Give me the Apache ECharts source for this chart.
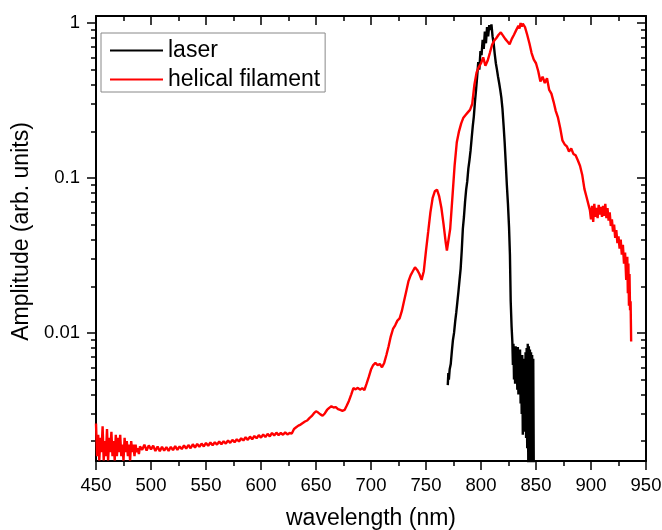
<!DOCTYPE html>
<html>
<head>
<meta charset="utf-8">
<script src="https://cdn.jsdelivr.net/npm/echarts@6/dist/echarts.min.js"></script>
<style>html,body{margin:0;padding:0;background:#fff}#c{width:662px;height:530px}</style>
</head>
<body>
<div id="c"></div>
<script>
// ---- data ----
const seriesNames = ['laser', 'helical filament'];
const xTickValues = [450, 500, 550, 600, 650, 700, 750, 800, 850, 900, 950];
const yMajorTicks = [0.01, 0.1, 1];
const yMinorTicks = [0.002,0.003,0.004,0.005,0.006,0.007,0.008,0.009,
                     0.02,0.03,0.04,0.05,0.06,0.07,0.08,0.09,
                     0.2,0.3,0.4,0.5,0.6,0.7,0.8,0.9];

const laserData = [
 [769.8,0.0046],[770.3,0.0055],[770.8,0.0050],[771.5,0.0058],[772.5,0.0063],[773.5,0.0076],
 [774.5,0.0090],[775.5,0.0100],[776.5,0.0118],[777.5,0.0135],[778.5,0.0158],[779.5,0.0185],
 [780.5,0.0220],[781.5,0.0260],[782.5,0.0340],[783.5,0.0470],[784.5,0.0560],[785.5,0.0700],
 [786.5,0.0840],[787.5,0.0950],[788.5,0.1150],[789.5,0.1300],[790.5,0.1500],[791.5,0.1800],
 [792.5,0.2150],[793.5,0.2500],[794.5,0.3100],[795.5,0.3700],[796.5,0.4500],[797.5,0.5600],
 [798.5,0.5000],[799.5,0.6600],[800.5,0.6200],[801.5,0.7800],[802.5,0.6800],[803.5,0.8800],
 [804.5,0.7400],[805.5,0.9400],[806.5,0.8200],[807.5,0.9700],[808.5,0.9000],[809.5,0.9800],
 [810.5,0.8200],[811.5,0.7400],[812.5,0.6300],[813.5,0.5500],[814.5,0.5000],[815.5,0.4500],
 [816.5,0.4100],[817.5,0.3700],[818.5,0.3300],[819.5,0.2800],[820.5,0.2200],[821.5,0.1700],
 [822.5,0.1250],[823.5,0.0900],[824.5,0.0680],[825.5,0.0480],[826.3,0.0320],[827.0,0.0160],
 [827.8,0.0110],[828.5,0.0088],[829.0,0.0062],[829.5,0.0085],[830.0,0.0050],[830.5,0.0080],
 [831.0,0.0047],[831.5,0.0082],[832.0,0.0055],[832.5,0.0079],[833.0,0.0043],[833.5,0.0081],
 [834.0,0.0040],[834.5,0.0075],[835.0,0.0045],[835.5,0.0078],[836.0,0.0035],[836.5,0.0070],
 [837.0,0.0030],[837.5,0.0072],[838.0,0.0022],[838.5,0.0068],[839.0,0.0023],[839.5,0.0065],
 [840.0,0.0025],[840.5,0.0075],[841.0,0.0021],[841.5,0.0080],[842.0,0.0018],[842.5,0.0085],
 [843.0,0.0014],[843.5,0.0082],[844.0,0.0012],[844.5,0.0078],[845.0,0.0013],[845.5,0.0075],
 [846.0,0.0014],[846.5,0.0072],[847.0,0.0012],[847.5,0.0068],[848.0,0.0012]
];

const helicalData = [
 [450,0.0026],[451,0.0016],[452,0.0022],[453,0.0015],[454,0.0021],[455,0.0017],[456,0.0025],
 [457,0.0015],[458,0.0020],[459,0.0016],[460,0.0024],[461,0.0015],[462,0.0021],[463,0.0017],
 [464,0.0023],[465,0.0016],[466,0.0020],[467,0.0015],[468,0.0022],[469,0.0016],[470,0.0021],
 [471,0.0017],[472,0.0022],[473,0.0016],[474,0.0019],[475,0.0015],[476,0.0021],[477,0.0017],
 [478,0.0020],[479,0.0016],[480,0.0019],[481,0.0015],[482,0.0020],[483,0.0017],[484,0.0019],
 [485,0.0016],[486,0.0019],[487,0.0017],[488,0.0018],[489,0.00165],[490,0.00185],
 [492,0.00176],[494,0.00190],[496,0.00174],[498,0.00188],[500,0.00177],[502,0.00187],
 [504,0.00173],[506,0.00185],[508,0.00172],[510,0.00184],[512,0.00174],[514,0.00183],
 [516,0.00173],[518,0.00184],[520,0.00175],[522,0.00186],[524,0.00176],[526,0.00185],
 [528,0.00178],[530,0.00188],[532,0.00179],[534,0.00189],[536,0.00180],[538,0.00191],
 [540,0.00182],[542,0.00192],[544,0.00184],[546,0.00193],[548,0.00185],[550,0.00195],
 [552,0.00187],[554,0.00196],[556,0.00188],[558,0.00197],[560,0.00190],[562,0.00199],
 [564,0.00191],[566,0.00200],[568,0.00193],[570,0.00202],[572,0.00195],[574,0.00204],
 [576,0.00197],[578,0.00206],[580,0.00199],[582,0.00209],[584,0.00202],[586,0.00212],
 [588,0.00204],[590,0.00214],[592,0.00206],[594,0.00216],[596,0.00209],[598,0.00219],
 [600,0.00211],[602,0.00221],[604,0.00213],[606,0.00223],[608,0.00215],[610,0.00226],
 [612,0.00218],[614,0.00227],[616,0.00219],[618,0.00226],[620,0.00220],[622,0.00228],
 [624,0.00221],[626,0.00226],[628,0.00224],[630,0.00240],[632,0.00246],[634,0.00252],
 [636,0.00256],[638,0.00262],[640,0.00268],[642,0.00272],[644,0.00282],[646,0.00290],
 [648,0.00302],[650,0.00312],[652,0.00306],[654,0.00298],[656,0.00292],[658,0.00302],
 [660,0.00318],[662,0.00328],[664,0.00336],[666,0.00330],[668,0.00332],[670,0.00322],
 [672,0.00318],[674,0.00314],[676,0.00318],[678,0.00340],[680,0.00365],[682,0.00400],
 [684,0.00440],[686,0.00432],[688,0.00442],[690,0.00430],[692,0.00440],[694,0.00428],
 [696,0.00470],[698,0.00520],[700,0.00580],[702,0.00620],[704,0.00640],[706,0.00620],
 [708,0.00630],[710,0.00600],[712,0.00640],[714,0.00720],[716,0.00820],[718,0.00950],
 [720,0.01060],[722,0.01120],[724,0.01200],[726,0.01240],[728,0.01380],[730,0.01600],
 [732,0.01850],[734,0.02150],[736,0.02350],[738,0.02500],[740,0.02650],[742,0.02550],
 [744,0.02400],[746,0.02200],[747,0.02150],[748,0.02500],[750,0.03400],[752,0.04500],
 [754,0.06000],[756,0.07400],[758,0.08200],[760,0.08400],[762,0.07600],[764,0.06400],
 [766,0.05000],[768,0.03800],[769,0.03400],[770,0.03500],[772,0.04700],[774,0.07500],
 [776,0.12000],[778,0.17000],[780,0.20000],[782,0.22500],[784,0.24500],[786,0.25500],
 [788,0.26500],[790,0.27500],[792,0.30000],[794,0.40000],[796,0.48000],[798,0.52000],
 [800,0.55000],[802,0.60000],[804,0.53000],[806,0.57000],[808,0.64000],[810,0.72000],
 [812,0.77000],[814,0.80000],[816,0.84000],[818,0.87000],[820,0.83000],[822,0.79000],
 [824,0.76000],[826,0.73000],[828,0.79000],[830,0.84000],[832,0.90000],[834,0.96000],
 [835,0.92000],[836,1.00000],[837,0.95000],[838,0.99000],[840,0.94000],[842,0.84000],
 [844,0.74000],[846,0.64000],[848,0.58000],[850,0.55000],[852,0.49000],[854,0.42000],
 [856,0.45000],[858,0.41000],[860,0.44000],[862,0.37000],[864,0.35000],[866,0.31000],
 [868,0.27000],[870,0.24500],[872,0.21000],[874,0.17500],[876,0.16500],[878,0.16000],
 [880,0.14800],[882,0.15500],[884,0.14300],[886,0.14000],[888,0.13000],[890,0.12000],
 [892,0.10500],[894,0.08500],[896,0.07500],[898,0.06600],[899,0.06200],[900,0.05400],
 [901,0.06600],[902,0.05200],[903,0.06800],[904,0.05600],[905,0.06400],[906,0.05500],
 [907,0.06700],[908,0.05800],[909,0.06500],[910,0.05600],[911,0.06600],[912,0.05700],
 [913,0.06800],[914,0.05500],[915,0.06400],[916,0.05300],[917,0.06000],[918,0.04900],
 [919,0.05400],[920,0.04500],[921,0.05000],[922,0.04100],[923,0.04600],[924,0.03800],
 [925,0.04200],[926,0.03500],[927,0.04000],[928,0.03200],[929,0.03700],[930,0.02800],
 [931,0.03300],[932,0.02200],[933,0.03100],[933.5,0.01800],[934,0.02800],[934.5,0.01500],
 [935,0.02400],[935.5,0.01400],[936,0.01600],[936.5,0.00880]
];

// ---- chart ----
const FONT = 'Liberation Sans, Arial, sans-serif';
const Y_MIN = 0.00149, Y_MAX = 1.11;
const fmt = v => String(+Number(v).toPrecision(3));

function yAxisCfg(pos, inside, ticks, len, showLine, showLabel, extra) {
  return Object.assign({
    type: 'log', logBase: 10, position: pos, min: Y_MIN, max: Y_MAX,
    axisLine: { show: showLine, lineStyle: { color: '#000', width: 2 } },
    axisTick: { show: true, inside: inside, length: len, customValues: ticks, lineStyle: { color: '#000', width: 1.5 } },
    axisLabel: { show: showLabel, customValues: yMajorTicks, formatter: fmt, margin: 16,
                 fontSize: 18.5, color: '#000', fontFamily: FONT },
    splitLine: { show: false }, minorTick: { show: false }
  }, extra || {});
}

const chart = echarts.init(document.getElementById('c'), null, { renderer: 'canvas' });
chart.setOption({
  animation: false,
  backgroundColor: '#fff',
  grid: { left: 96, right: 16, top: 16, bottom: 69, outerBoundsMode: 'none', containLabel: false },
  legend: {
    data: seriesNames, orient: 'vertical', left: 101, top: 33, icon: 'rect',
    padding: [6, 5, 1, 9], itemGap: 6, itemWidth: 53, itemHeight: 2,
    borderColor: '#888', borderWidth: 1, backgroundColor: '#fff',
    textStyle: { fontSize: 23, color: '#000', fontFamily: FONT }
  },
  xAxis: [
    { type: 'value', position: 'bottom', min: 450, max: 950, interval: 50,
      name: 'wavelength (nm)', nameLocation: 'middle', nameGap: 46,
      nameTextStyle: { fontSize: 23, color: '#000', fontFamily: FONT },
      axisLine: { show: true, lineStyle: { color: '#000', width: 2 } },
      axisTick: { show: true, inside: false, length: 9, lineStyle: { color: '#000', width: 1.5 } },
      minorTick: { show: true, splitNumber: 2, length: 5, lineStyle: { color: '#000', width: 1.5 } },
      axisLabel: { show: true, margin: 15, fontSize: 18.5, color: '#000', fontFamily: FONT,
                   customValues: xTickValues },
      splitLine: { show: false }, minorSplitLine: { show: false } },
    { type: 'value', position: 'top', min: 450, max: 950, interval: 50,
      axisLine: { show: true, lineStyle: { color: '#000', width: 2 } },
      axisTick: { show: true, inside: true, length: 9, lineStyle: { color: '#000', width: 1.5 } },
      minorTick: { show: true, splitNumber: 2, length: 5, lineStyle: { color: '#000', width: 1.5 } },
      axisLabel: { show: false }, splitLine: { show: false }, minorSplitLine: { show: false } }
  ],
  yAxis: [
    yAxisCfg('left', false, yMajorTicks, 9, true, true, {
      name: 'Amplitude (arb. units)', nameLocation: 'middle', nameGap: 53, nameRotate: 90,
      nameTextStyle: { fontSize: 23, color: '#000', fontFamily: FONT, padding: [0, 0, 0, 14] }
    }),
    yAxisCfg('left', false, yMinorTicks, 5, false, false),
    yAxisCfg('right', true, yMajorTicks, 9, true, false),
    yAxisCfg('right', true, yMinorTicks, 5, false, false)
  ],
  series: [
    { name: seriesNames[0], type: 'line', xAxisIndex: 0, yAxisIndex: 0, data: laserData,
      showSymbol: false, symbol: 'none', lineStyle: { color: '#000', width: 2.4 }, itemStyle: { color: '#000' },
      clip: true },
    { name: seriesNames[1], type: 'line', xAxisIndex: 0, yAxisIndex: 0, data: helicalData,
      showSymbol: false, symbol: 'none', lineStyle: { color: '#ff0000', width: 2.4 }, itemStyle: { color: '#ff0000' },
      clip: true }
  ]
});
</script>
</body>
</html>
